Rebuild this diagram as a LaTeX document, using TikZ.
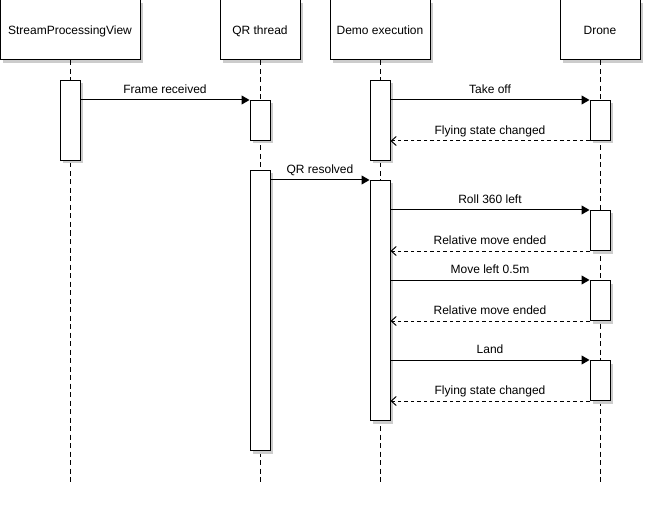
\documentclass[tikz,border=0pt]{standalone}
\usepackage{fontspec}
\setmainfont{Liberation Sans}
\usepackage{tikz}
\usetikzlibrary{
        arrows.meta,
        shadows
    }

\begin{document}
\begin{tikzpicture}[x=1pt, y=-1pt,
baseshape/.style={draw=black, line width=1pt, fill=white, font=\fontsize{12}{14}\selectfont, drop shadow={shadow xshift=3pt, shadow yshift=-3pt, fill=black!20, opacity=1}},
header/.style={baseshape, rectangle, minimum height=60pt, inner sep=0pt, text height=8.6pt, text depth=0pt},
activation/.style={baseshape, rectangle, anchor=north, minimum width=20pt, inner sep=0pt},
lifeline/.style={line width=1pt, dash pattern=on 5pt off 3.5pt},
arrow/.style={line width=1pt, -{Triangle[length=8pt,width=9pt]}},
reply/.style={line width=1pt, dash pattern=on 3.5pt off 3pt, -{Straight Barb[length=5pt,width=9pt]}},
msg/.style={midway, above=6pt, inner sep=0pt, text depth=0pt, font=\fontsize{12}{14}\selectfont},
]
\useasboundingbox (0,0) rectangle (645,505);

\node (spv) [header, minimum width=140pt] at (70,30) {StreamProcessingView};
\node (qr) [header, minimum width=80pt] at (260,30) {QR thread};
\node (demo) [header, minimum width=100pt] at (380,30) {Demo execution};
\node (drone) [header, minimum width=80pt] at (600,30) {Drone};

\coordinate (bottom) at (0,485);
\foreach \n in {spv,qr,demo,drone}
    \draw[lifeline] (\n.south) -- (\n.south |- bottom);

\node (spvA) [activation, minimum height=80pt] at (70,80) {};
\node (qrA1) [activation, minimum height=40pt] at (260,100) {};
\node (qrA2) [activation, minimum height=280pt] at (260,170) {};
\node (demoA1) [activation, minimum height=80pt] at (380,80) {};
\node (demoA2) [activation, minimum height=240pt] at (380,180) {};
\node (droneA1) [activation, minimum height=40pt] at (600,100) {};
\node (droneA2) [activation, minimum height=40pt] at (600,210) {};
\node (droneA3) [activation, minimum height=40pt] at (600,280) {};
\node (droneA4) [activation, minimum height=40pt] at (600,360) {};

\draw[arrow] (spvA.east |- qrA1.north) -- node[msg] {Frame received} (qrA1.north west);
\draw[arrow] (demoA1.east |- droneA1.north) -- node[msg] {Take off} (droneA1.north west);
\draw[reply] (droneA1.south west) -- node[msg] {Flying state changed} (droneA1.south west -| demoA1.east);
\draw[arrow] (qrA2.east |- demoA2.north) -- node[msg] {QR resolved} (demoA2.north west);
\draw[arrow] (demoA2.east |- droneA2.north) -- node[msg] {Roll 360 left} (droneA2.north west);
\draw[reply] (droneA2.south west) -- node[msg] {Relative move ended} (droneA2.south west -| demoA2.east);
\draw[arrow] (demoA2.east |- droneA3.north) -- node[msg] {Move left 0.5m} (droneA3.north west);
\draw[reply] (droneA3.south west) -- node[msg] {Relative move ended} (droneA3.south west -| demoA2.east);
\draw[arrow] (demoA2.east |- droneA4.north) -- node[msg] {Land} (droneA4.north west);
\draw[reply] (droneA4.south west) -- node[msg] {Flying state changed} (droneA4.south west -| demoA2.east);

\end{tikzpicture}
\end{document}
